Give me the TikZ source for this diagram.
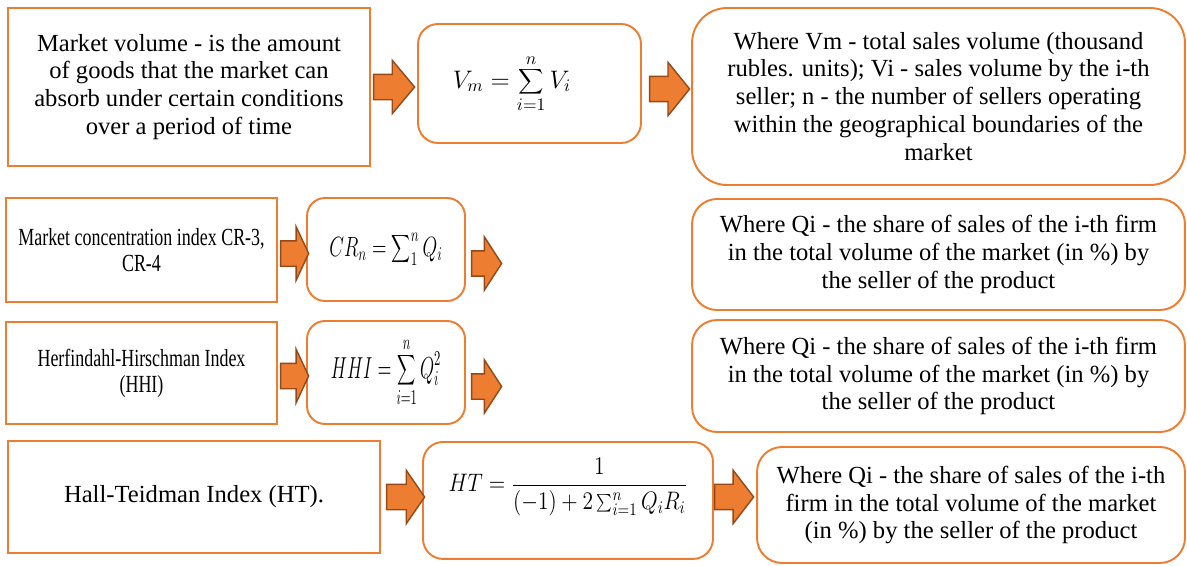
\documentclass[tikz,border=0pt]{standalone}
\usepackage{fontspec}
\setmainfont{Liberation Serif}
\newfontfamily\narrowserif[FakeStretch=0.73]{Liberation Serif}
\usepackage{tikz}
\usetikzlibrary{shapes.arrows, positioning}
\definecolor{boxline}{RGB}{237, 125, 49}
\definecolor{arrowfill}{RGB}{237, 125, 49}
\definecolor{arrowline}{RGB}{150, 72, 22}

\begin{document}
\begin{tikzpicture}[x=0.02cm, y=-0.02cm, font=\fontsize{14}{15.9}\selectfont,
        sq/.style={rectangle, draw=boxline, line width=1.1pt, align=center, inner sep=0pt},
        rd/.style={sq, rounded corners=0.4cm},
        narrow/.style={font=\narrowserif\fontsize{14}{14.8}\selectfont},
        blk/.style={single arrow, draw=arrowline, fill=arrowfill, line width=0.8pt,
                    inner xsep=0pt, inner ysep=0.24cm, minimum width=1.04cm, single arrow head extend=0.28cm}]
    \useasboundingbox (0,0) rectangle (1187,565);
    % row 1: market volume
    \node[sq, minimum width=7.24cm, minimum height=3.16cm] (vol) at (189,87)
        {Market volume - is the amount\\of goods that the market can\\absorb under certain conditions\\over a period of time};
    \node[rd, minimum width=4.46cm, minimum height=2.38cm] (volf) at (529.5,83.5)
        {$\displaystyle V_m=\sum_{i=1}^{n}V_i$\hspace*{0.7cm}};
    \node[rd, rounded corners=0.7cm, minimum width=9.86cm, minimum height=3.54cm] (vold) at (938.5,96.5)
        {Where Vm - total sales volume (thousand\\rubles. units); Vi - sales volume by the i-th\\seller; n - the number of sellers operating\\within the geographical boundaries of the\\market};
    % row 2: CR
    \node[sq, narrow, minimum width=5.42cm, minimum height=2.08cm] (cr) at (141.5,250)
        {Market concentration index CR-3,\\CR-4};
    \node[rd, rounded corners=0.36cm, minimum width=3.16cm, minimum height=2.06cm] (crf) at (386,249.5)
        {\scalebox{0.75}[1.1]{$\displaystyle CR_n=\sum\nolimits_1^n Q_i$}};
    \node[rd, rounded corners=0.5cm, minimum width=9.86cm, minimum height=2.22cm] (crd) at (938.5,254.5)
        {Where Qi - the share of sales of the i-th firm\\in the total volume of the market (in \%) by\\the seller of the product};
    % row 3: HHI
    \node[sq, narrow, minimum width=5.42cm, minimum height=2.04cm] (hhi) at (141.5,373)
        {Herfindahl-Hirschman Index\\(HHI)};
    \node[rd, rounded corners=0.36cm, minimum width=3.16cm, minimum height=2.06cm] (hhif) at (386,372.5)
        {\scalebox{0.72}[1.2]{$\displaystyle HHI=\sum_{i=1}^{n}Q_i^2$}};
    \node[rd, rounded corners=0.5cm, minimum width=9.86cm, minimum height=2.24cm] (hhid) at (938.5,376)
        {Where Qi - the share of sales of the i-th firm\\in the total volume of the market (in \%) by\\the seller of the product};
    % row 4: HT
    \node[sq, minimum width=7.44cm, minimum height=2.24cm] (ht) at (194,497)
        {Hall-Teidman Index (HT).};
    \node[rd, anchor=north, minimum width=5.8cm, text height=1.0cm, text depth=1.34cm] (htf) at (568,441)
        {\scalebox{0.85}[1]{$\displaystyle HT=\frac{1}{(-1)+2\sum_{i=1}^{n}Q_iR_i}$}};
    \node[rd, rounded corners=0.5cm, minimum width=8.56cm, minimum height=2.32cm] (htd) at (971,505)
        {Where Qi - the share of sales of the i-th\\firm in the total volume of the market\\(in \%) by the seller of the product};
    % block arrows
    \node[blk, minimum height=0.82cm, single arrow tip angle=100, right=0.04cm of vol] (r1a) {};
    \node[blk, minimum height=0.80cm, single arrow tip angle=102, right=0.14cm of volf, yshift=-0.11cm] (r1b) {};
    \node[blk, minimum height=0.56cm, single arrow tip angle=130, right=0.04cm of cr, yshift=-0.07cm] (r2a) {};
    \node[blk, minimum height=0.60cm, single arrow tip angle=114, right=0.10cm of crf, yshift=-0.28cm] (r2b) {};
    \node[blk, minimum height=0.56cm, single arrow tip angle=130, right=0.04cm of hhi, yshift=-0.06cm] (r3a) {};
    \node[blk, minimum height=0.60cm, single arrow tip angle=114, right=0.10cm of hhif, yshift=-0.28cm] (r3b) {};
    \node[blk, minimum height=0.76cm, single arrow tip angle=111, right=0.10cm of ht] (r4a) {};
    \node[blk, minimum height=0.78cm, single arrow tip angle=105, right=0cm of htf, yshift=0.07cm] (r4b) {};
\end{tikzpicture}
\end{document}
